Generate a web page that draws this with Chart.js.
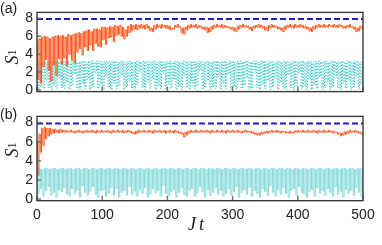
<!DOCTYPE html>
<html>
<head>
<meta charset="utf-8">
<script src="https://cdn.jsdelivr.net/npm/chart.js@4.4.0/dist/chart.umd.min.js"></script>
<style>
  body { margin: 0; width: 382px; height: 245px; position: relative; background: #fff; overflow: hidden; font-family: "Liberation Sans", Arial, sans-serif; }
  canvas { position: absolute; left: 0; }
  .lbl { position: absolute; color: #222; white-space: nowrap; }
  .panel { font-size: 14px; left: 0; }
  .ylab { width: 30px; height: 22px; display: flex; align-items: center; justify-content: center;
    font-family: "Liberation Serif", serif; font-style: italic; font-size: 18px; transform: rotate(-90deg); }
  .ylab sub { font-style: normal; font-size: 12px; }
  .xlab { font-family: "Liberation Serif", serif; font-style: italic; font-size: 18px; letter-spacing: 3px; }
</style>
</head>
<body>
<canvas id="chartA" width="382" height="104" style="top:0"></canvas>
<canvas id="chartB" width="382" height="141" style="top:104px"></canvas>
<div class="lbl panel" style="top:0">(a)</div>
<div class="lbl panel" style="top:106px">(b)</div>
<div class="lbl ylab" style="left:-3px;top:46px"><span>S</span><sub>1</sub></div>
<div class="lbl ylab" style="left:-3px;top:139px"><span>S</span><sub>1</sub></div>
<div class="lbl xlab" style="left:188px;top:214px">Jt</div>
<script>
// time step between samples, Jt units
const jtStep = 2;
const xTicks = [0, 100, 200, 300, 400, 500];
const yTicks = [0, 2, 4, 6, 8];

// dashed reference level (both panels)
const maxLevel = [7.92, 7.92];
const maxLevelJt = [0, 500];

// panel (a)
const orangeA = [
  5.4,1.2,5.7,0.8,5.9,2.6,6.0,3.4,5.9,2.2,
  5.7,1.0,5.9,2.8,6.0,1.6,6.1,3.5,6.0,2.9,
  6.1,3.6,5.9,2.7,6.2,4.0,6.1,3.3,6.2,3.0,
  6.3,4.2,6.4,4.6,6.3,3.9,6.5,4.8,6.6,4.4,
  6.7,5.0,6.5,4.4,6.8,5.2,6.8,4.9,6.7,4.8,
  7.0,5.6,7.0,5.1,6.9,5.8,7.1,5.9,7.0,5.4,
  7.2,6.1,7.1,6.2,7.2,6.0,7.0,5.7,6.7,6.0,
  7.1,6.4,7.3,6.6,7.2,6.8,7.3,6.7,7.2,6.9,
  7.3,6.9,7.2,6.8,7.3,6.9,7.1,6.6,6.9,6.5,
  7.2,6.8,7.3,7.0,7.2,6.9,7.3,7.0,7.2,6.9,
  7.2,6.8,7.1,6.7,6.9,6.8,7.2,7.0,7.3,7.0,
  7.1,6.4,6.9,6.2,7.0,6.7,7.2,6.9,7.3,7.0,
  7.2,7.0,7.3,6.9,7.2,7.0,7.1,6.8,7.0,6.7,
  7.0,6.4,6.9,6.5,7.1,6.8,7.2,7.0,7.3,7.0,
  7.2,7.0,7.3,6.9,7.2,7.0,7.1,6.9,7.0,6.8,
  7.0,6.6,6.9,6.5,7.1,6.8,7.2,7.0,7.3,7.0,
  7.2,7.0,7.1,6.8,7.0,6.6,7.1,6.9,7.2,7.0,
  7.3,7.0,7.2,6.9,7.1,6.7,7.0,6.6,7.2,6.9,
  7.3,7.0,7.2,7.0,7.1,6.8,7.0,6.7,6.9,6.5,
  7.1,6.8,7.2,7.0,7.3,7.0,7.2,6.9,7.3,7.0,
  7.2,7.0,7.3,7.0,7.2,6.9,7.1,6.8,7.0,6.6,
  6.9,6.5,7.1,6.8,7.2,7.0,7.3,7.0,7.2,7.0,
  7.3,7.0,7.2,7.0,7.3,7.1,7.2,7.0,7.3,7.0,
  7.2,7.0,7.3,7.1,7.2,6.9,7.1,6.9,7.2,7.0,
  7.3,7.0,7.1,6.8,7.0,6.5,6.9,6.6,7.1,6.9,
  7.2
];
const cyanA = [
  3.2,0.1,3.1,0.4,3.2,0.2,3.2,1.1,3.1,0.3,3.2,0.1,3.2,0.6,3.1,0.2,3.2,1.4,3.2,0.3,
  3.1,0.2,3.2,0.9,3.2,0.1,3.1,0.5,3.2,1.8,3.2,0.2,3.1,0.1,3.2,0.7,3.2,0.2,3.1,1.2,
  3.2,0.1,3.2,0.4,3.1,2.0,3.2,0.2,3.2,0.6,3.1,0.1,3.2,1.5,3.2,0.3,3.1,0.1,3.2,0.8,
  3.2,0.2,3.1,0.5,3.2,1.7,3.2,0.1,3.1,0.4,3.2,1.0,3.2,0.2,3.1,0.1,3.2,0.6,3.2,2.1,
  3.1,0.3,3.2,0.1,3.2,0.9,3.1,0.2,3.2,1.3,3.2,0.1,3.1,0.5,3.2,0.2,3.2,1.9,3.1,0.1,
  3.2,0.7,3.2,0.2,3.1,1.2,3.2,0.1,3.2,0.4,3.1,0.1,3.2,1.6,3.2,0.3,3.1,0.1,3.2,0.8,
  3.2,0.2,3.1,0.5,3.2,2.2,3.2,0.1,3.1,0.3,3.2,1.1,3.2,0.1,3.1,0.4,3.2,0.2,3.2,1.5,
  3.1,0.1,3.2,0.8,3.2,0.2,3.1,1.8,3.2,0.1,3.2,0.4,3.1,0.1,3.2,1.0,3.2,0.2,3.1,0.6,
  3.2,1.4,3.2,0.1,3.1,0.2,3.2,2.0,3.2,0.3,3.1,0.1,3.2,0.6,3.2,0.2,3.1,1.1,3.2,0.1,
  3.2,0.4,3.1,1.3,3.2,0.1,3.2,0.9,3.1,0.2,3.2,0.1,3.2,1.7,3.1,0.3,3.2,0.1,3.2,0.5,
  3.1,1.9,3.2,0.2,3.2,0.4,3.1,0.1,3.2,1.2,3.2,0.1,3.1,0.6,3.2,0.2,3.2,1.5,3.1,0.1,
  3.2,0.3,3.2,1.0,3.1,0.1,3.2,0.4,3.2,1.6,3.1,0.2,3.2,0.1,3.2,0.8,3.1,0.2,3.2,1.1,
  3.2,0.1,3.1,0.4,3.2,1.6,3.2,0.2,3.1,0.6,
  3.2
];

// panel (b)
const orangeB = [
  6.1,2.5,6.8,4.9,7.4,5.6,7.5,6.3,7.4,6.6,
  7.4,6.8,7.3,6.9,7.3,7.0,7.2,6.9,7.3,7.0,
  7.2,7.0,7.2,7.0,7.1,7.0,7.2,7.0,7.1,6.9,
  7.1,7.0,7.2,7.0,7.1,6.9,7.1,7.0,7.2,7.0,
  7.1,7.0,7.2,7.0,7.1,6.9,7.2,7.0,7.1,7.0,
  7.2,7.0,7.1,7.0,7.2,7.0,7.1,6.9,7.2,7.0,
  7.1,7.0,7.2,7.0,7.1,7.0,7.2,6.9,7.1,7.0,
  7.2,7.0,7.1,6.9,7.0,6.8,7.1,6.9,7.2,7.0,
  7.1,7.0,7.2,7.0,7.1,7.0,7.2,7.0,7.1,6.9,
  7.2,7.0,7.1,7.0,7.2,7.0,7.1,7.0,7.2,6.9,
  7.1,7.0,7.2,7.0,7.1,6.9,7.2,7.0,7.1,6.9,
  7.0,6.8,6.9,6.5,7.0,6.7,7.1,6.9,7.2,7.0,
  7.1,7.0,7.2,7.0,7.1,7.0,7.2,7.0,7.1,7.0,
  7.2,7.0,7.1,6.9,7.2,7.0,7.1,7.0,7.2,7.0,
  7.1,7.0,7.2,7.0,7.1,6.9,7.2,7.0,7.1,7.0,
  7.2,7.0,7.1,7.0,7.2,7.0,7.1,6.9,7.1,7.0,
  7.2,7.0,7.1,7.0,7.1,6.9,7.0,6.8,6.9,6.7,
  6.9,6.7,7.0,6.8,7.0,6.9,7.1,6.9,7.1,7.0,
  7.2,7.0,7.1,7.0,7.2,7.0,7.1,6.9,7.1,7.0,
  7.1,6.9,7.0,6.9,7.1,6.9,7.0,6.9,7.1,7.0,
  7.2,7.0,7.1,7.0,7.2,7.0,7.1,7.0,7.2,7.0,
  7.1,7.0,7.2,7.0,7.1,6.9,7.2,7.0,7.1,7.0,
  7.2,7.0,7.1,7.0,7.2,7.0,7.1,6.9,7.1,7.0,
  7.0,6.8,6.9,6.6,6.9,6.7,7.0,6.8,7.1,6.9,
  7.2,7.0,7.1,7.0,7.2,7.0,7.1,6.9,7.0,6.8,
  6.9
];
const cyanB = [
  3.2,0.6,3.2,1.1,3.1,0.3,3.2,0.9,3.2,1.3,3.1,0.4,3.2,0.7,3.2,0.2,3.1,1.0,3.2,0.8,
  3.2,1.2,3.1,0.5,3.2,0.3,3.2,1.1,3.1,0.6,3.2,0.9,3.2,0.2,3.1,1.4,3.2,0.7,3.2,0.4,
  3.1,0.8,3.2,1.3,3.2,0.5,3.1,0.2,3.2,0.9,3.2,1.0,3.1,0.3,3.2,0.6,3.2,1.2,3.1,0.4,
  3.2,1.1,3.2,0.2,3.1,0.7,3.2,0.9,3.2,0.4,3.1,1.3,3.2,0.5,3.2,0.8,3.1,0.3,3.2,1.0,
  3.2,0.6,3.1,1.2,3.2,0.2,3.2,0.5,3.1,1.1,3.2,0.7,3.2,0.9,3.1,0.3,3.2,1.4,3.2,0.6,
  3.1,0.4,3.2,0.8,3.2,1.0,3.1,0.2,3.2,0.7,3.2,1.2,3.1,0.5,3.2,0.3,3.2,0.9,3.1,1.1,
  3.2,0.3,3.2,0.6,3.1,1.3,3.2,0.8,3.2,0.2,3.1,1.0,3.2,0.4,3.2,0.7,3.1,1.2,3.2,0.5,
  3.2,0.9,3.1,0.3,3.2,0.6,3.2,1.1,3.1,0.4,3.2,0.8,3.2,1.3,3.1,0.2,3.2,0.7,3.2,1.0,
  3.1,0.5,3.2,1.2,3.2,0.3,3.1,0.9,3.2,0.6,3.2,0.2,3.1,1.1,3.2,0.8,3.2,0.4,3.1,1.4,
  3.2,0.7,3.2,0.3,3.1,1.0,3.2,0.5,3.2,1.2,3.1,0.6,3.2,0.2,3.2,0.9,3.1,1.1,3.2,0.4,
  3.2,1.3,3.1,0.7,3.2,0.5,3.2,0.2,3.1,0.8,3.2,1.0,3.2,0.3,3.1,1.2,3.2,0.6,3.2,0.9,
  3.1,0.4,3.2,1.1,3.2,0.7,3.1,0.3,3.2,1.3,3.2,0.5,3.1,0.8,3.2,0.2,3.2,1.0,3.1,0.6,
  3.2,0.9,3.2,0.4,3.1,1.2,3.2,0.7,3.2,0.3,
  3.2
];

const toPoints = (arr) => arr.map((v, i) => ({ x: i * jtStep, y: v }));
const levelPoints = maxLevel.map((v, i) => ({ x: maxLevelJt[i], y: v }));

// box round the plot + short ticks pointing in
const framePlugin = {
  id: 'frame',
  afterDatasetsDraw(chart) {
    const { ctx, chartArea: a, scales } = chart;
    ctx.save();
    ctx.strokeStyle = '#777';
    ctx.lineWidth = 1.5;
    ctx.beginPath();
    yTicks.forEach(v => {
      const y = scales.y.getPixelForValue(v);
      ctx.moveTo(a.left, y);
      ctx.lineTo(a.left + 4, y);
    });
    xTicks.forEach(v => {
      const x = scales.x.getPixelForValue(v);
      ctx.moveTo(x, a.bottom);
      ctx.lineTo(x, a.bottom - 5);
    });
    ctx.stroke();
    ctx.strokeStyle = '#3a3a3a';
    ctx.lineWidth = 1.4;
    ctx.strokeRect(a.left, a.top, a.right - a.left, a.bottom - a.top);
    ctx.restore();
  }
};

function makeChart(id, orange, cyan, cyanDotted, showX, padTop, xHeight) {
  return new Chart(document.getElementById(id), {
    type: 'line',
    data: {
      datasets: [
        { data: levelPoints, borderColor: '#1c1cc4', borderWidth: 2, borderDash: [6, 3], pointRadius: 0 },
        { data: toPoints(orange), borderColor: '#ff4f14', borderWidth: 1, pointRadius: 0, stepped: 'middle' },
        { data: toPoints(cyan), borderColor: cyanDotted ? '#2cc4c4' : '#86dada', borderWidth: 1,
          borderDash: cyanDotted ? [1.5, 1.5] : [], pointRadius: 0, stepped: 'middle' }
      ]
    },
    options: {
      responsive: false,
      animation: false,
      layout: { padding: { top: padTop, right: 19, left: 0, bottom: 0 } },
      plugins: { legend: { display: false }, tooltip: { enabled: false } },
      scales: {
        x: {
          type: 'linear', min: 0, max: 500,
          grid: { display: false, drawTicks: false },
          border: { display: false },
          afterBuildTicks: s => { s.ticks = xTicks.map(v => ({ value: v })); },
          afterFit: s => { s.height = xHeight; },
          ticks: { display: showX, padding: 6, maxRotation: 0, color: '#222',
            font: { family: 'Liberation Sans', size: 14 } }
        },
        y: {
          min: -0.17, max: 8.65,
          grid: { display: false, drawTicks: false },
          border: { display: false },
          afterBuildTicks: s => { s.ticks = yTicks.map(v => ({ value: v })); },
          afterFit: s => { s.width = 37; },
          ticks: { padding: 4, color: '#222', font: { family: 'Liberation Sans', size: 14 } }
        }
      }
    },
    plugins: [framePlugin]
  });
}

makeChart('chartA', orangeA, cyanA, true, false, 6, 7.3);
makeChart('chartB', orangeB, cyanB, false, true, 5.6, 44.3);
</script>
</body>
</html>
